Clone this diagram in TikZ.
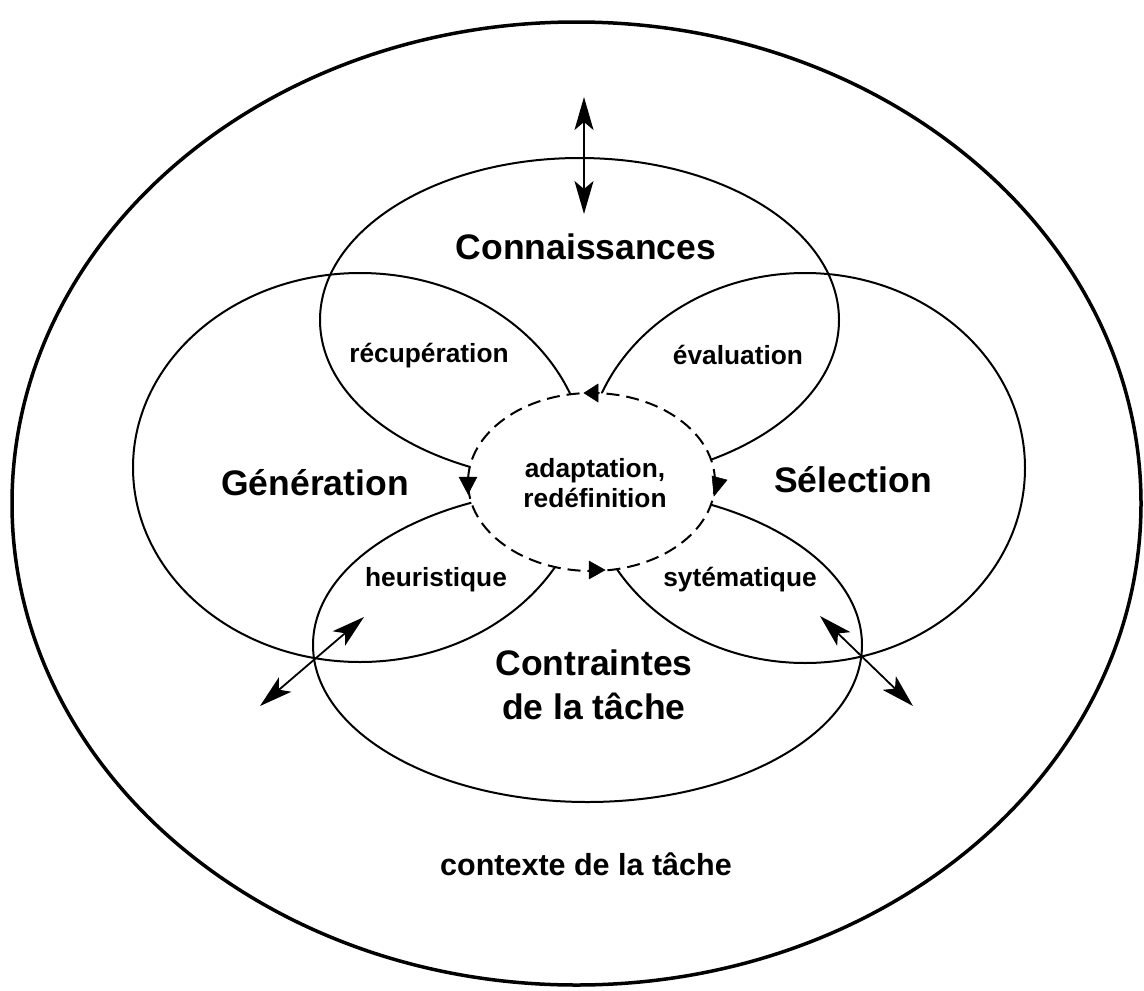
\documentclass[tikz,border=0pt]{standalone}
\usepackage{fontspec}
\setmainfont{Liberation Sans}
\usetikzlibrary{shapes.geometric,arrows.meta}
\tikzset{
  lobe/.style={ellipse, draw, line width=2pt, inner sep=0pt, outer sep=0pt},
  big/.style={font=\bfseries\fontsize{35.5}{44}\selectfont, align=center, inner sep=0pt},
  small/.style={font=\bfseries\fontsize{26.3}{30}\selectfont, align=center, inner sep=0pt},
  dbl/.style={line width=1.8pt, {Stealth[length=33pt,width=19pt,inset=8pt]}-{Stealth[length=33pt,width=19pt,inset=8pt]}},
  tipfill/.style={fill=black, draw=black, line width=0.5pt, line join=miter},
}
\begin{document}
\begin{tikzpicture}[x=1pt,y=-1pt]
\useasboundingbox (0,0) rectangle (1144,991);
% outer context ellipse
\node[ellipse, draw, line width=3.5pt, inner sep=0pt, minimum width=1129pt, minimum height=963pt] (ctx) at (576.5,503.5) {};
% four lobes
\node[lobe, minimum width=454pt, minimum height=389pt] (gen) at (360,467.5) {};
\node[lobe, minimum width=519pt, minimum height=324pt] (conn) at (579.5,320) {};
\node[lobe, minimum width=440pt, minimum height=390pt] (sel) at (805,468) {};
\node[lobe, minimum width=549pt, minimum height=314pt] (contr) at (587.5,645) {};
% central dashed ellipse
\node[ellipse, draw, fill=white, line width=2pt, dash pattern=on 13pt off 7pt, inner sep=0pt, minimum width=247pt, minimum height=178pt] (adapt) at (591.5,482) {};
% arrowheads on dashed ellipse
\coordinate (t2) at (584,393);
\coordinate (l2) at (468,494);
\coordinate (b2) at (605,570);
\coordinate (r2) at (714,496);
\fill[tipfill] (t2) -- ++(14,-9) -- ++(0,18) -- cycle;
\fill[tipfill] (l2) -- ++(-9,-17) -- ++(18,0) -- cycle;
\fill[tipfill] (b2) -- ++(-16,-9) -- ++(0,18) -- cycle;
\fill[tipfill] (r2) -- ++(-2,-20) -- ++(15,4) -- cycle;
% labels
\node[big] (lconn) at (586,247) {Connaissances};
\node[big] (lgen) at (315,483) {Génération};
\node[big] (lsel) at (853,480) {Sélection};
\node[big] (lcontr) at (594,685) {Contraintes\\de la tâche};
\node[small] (lrec) at (429,356) {récupération};
\node[small] (leva) at (738,355) {évaluation};
\node[small] (ladapt) at (595,483) {adaptation,\\redéfinition};
\node[small] (lheu) at (436,580) {heuristique};
\node[small] (lsys) at (740,580) {sytématique};
\node[small, font=\bfseries\fontsize{30.5}{34}\selectfont] (lctx) at (586,864) {contexte de la tâche};
% double arrows
\coordinate (v1) at (584,97); \coordinate (v2) at (584,214);
\coordinate (a1) at (364,617); \coordinate (a2) at (260,706);
\coordinate (c1) at (820,616); \coordinate (c2) at (913,706);
\draw[dbl] (v1) -- (v2);
\draw[dbl] (a1) -- (a2);
\draw[dbl] (c1) -- (c2);
\end{tikzpicture}
\end{document}
